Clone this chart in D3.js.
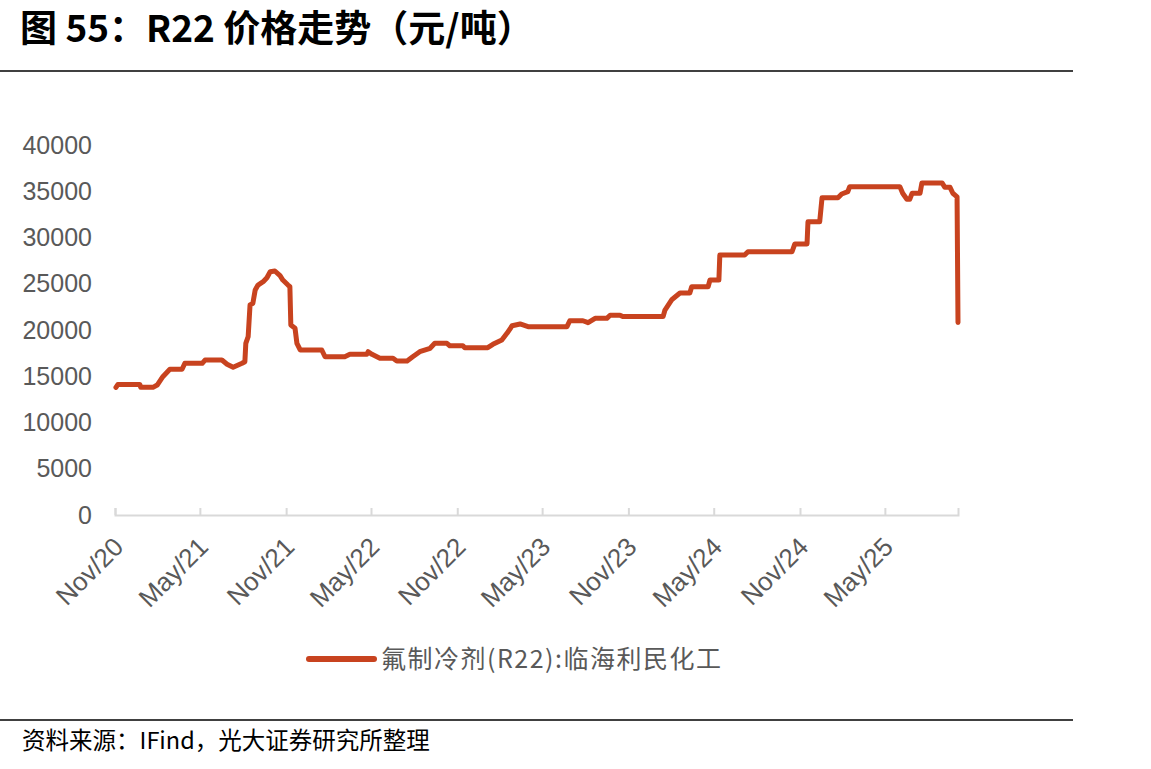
<!DOCTYPE html>
<html>
<head>
<meta charset="utf-8">
<script src="https://cdn.jsdelivr.net/npm/d3@7"></script>
<style>
  body { margin: 0; background: #fff; }
  svg { display: block; }
</style>
</head>
<body>
<script>
// R22 price, yuan/ton
var dates = [
    '2020-11-03', '2020-11-07', '2020-12-24', '2020-12-26', '2021-01-21', '2021-01-30',
    '2021-02-11', '2021-02-26', '2021-03-24', '2021-03-30', '2021-05-06', '2021-05-12',
    '2021-06-17', '2021-06-28', '2021-07-11', '2021-07-30', '2021-08-05', '2021-08-07',
    '2021-08-12', '2021-08-16', '2021-08-22', '2021-08-27', '2021-09-02', '2021-09-13',
    '2021-09-21', '2021-09-28', '2021-10-08', '2021-10-19', '2021-10-25', '2021-11-05',
    '2021-11-09', '2021-11-11', '2021-11-20', '2021-11-24', '2021-12-01', '2022-01-16',
    '2022-01-23', '2022-03-06', '2022-03-17', '2022-04-22', '2022-04-25', '2022-05-03',
    '2022-05-20', '2022-06-17', '2022-06-25', '2022-07-17', '2022-07-29', '2022-08-13',
    '2022-09-04', '2022-09-14', '2022-10-10', '2022-10-16', '2022-11-13', '2022-11-17',
    '2023-01-05', '2023-01-16', '2023-02-04', '2023-02-15', '2023-02-26', '2023-03-15',
    '2023-04-01', '2023-06-23', '2023-06-29', '2023-07-27', '2023-08-07', '2023-08-22',
    '2023-09-16', '2023-09-23', '2023-10-14', '2023-10-20', '2024-01-14', '2024-01-18',
    '2024-02-02', '2024-02-19', '2024-03-11', '2024-03-15', '2024-04-19', '2024-04-23',
    '2024-05-12', '2024-05-14', '2024-07-06', '2024-07-13', '2024-10-15', '2024-10-21',
    '2024-11-16', '2024-11-18', '2024-12-13', '2024-12-18', '2025-01-21', '2025-01-29',
    '2025-02-11', '2025-02-15', '2025-06-02', '2025-06-08', '2025-06-17', '2025-06-23',
    '2025-06-28', '2025-07-15', '2025-07-19', '2025-08-31', '2025-09-06', '2025-09-17',
    '2025-09-23', '2025-10-02', '2025-10-04'
];
var prices = [
    13800, 14100, 14100, 13800, 13800, 14050,
    14950, 15750, 15750, 16400, 16400, 16750,
    16750, 16300, 15970, 16400, 16570, 18560,
    19280, 22700, 22880, 24320, 24860, 25220,
    25650, 26300, 26380, 25870, 25400, 24860,
    24680, 20540, 20180, 18560, 17840, 17840,
    17110, 17110, 17370, 17370, 17650, 17370,
    16940, 16940, 16650, 16650, 17110, 17650,
    18020, 18560, 18560, 18300, 18300, 18090,
    18090, 18450, 18920, 19640, 20460, 20650,
    20360, 20360, 21000, 21000, 20790, 21260,
    21260, 21600, 21600, 21450, 21450, 22160,
    23300, 24000, 24000, 24680, 24680, 25400,
    25400, 28100, 28100, 28460, 28460, 29300,
    29300, 31700, 31700, 34300, 34300, 34700,
    34950, 35500, 35500, 34780, 34130, 34130,
    34780, 34780, 35900, 35900, 35420, 35420,
    34780, 34400, 20800
];
var axisStart = '2020-11-01';
var axisEnd = '2025-10-04';
var tickDates = ['2020-11-01', '2021-05-01', '2021-11-01', '2022-05-01', '2022-11-01',
    '2023-05-01', '2023-11-01', '2024-05-01', '2024-11-01', '2025-05-01'];
var yTicks = [0, 5000, 10000, 15000, 20000, 25000, 30000, 35000, 40000];

var titleText = '图 55：R22 价格走势（元/吨）';
var legendText = '氟制冷剂(R22):临海利民化工';
var sourceText = '资料来源：IFind，光大证券研究所整理';

var width = 1151;
var height = 769;
var lineColor = '#c8431f';
var textGray = '#595959';
var cjk = '"Noto Sans CJK SC", "Noto Sans", sans-serif';
var latin = '"Liberation Sans", Arial, sans-serif';

var parse = d3.timeParse('%Y-%m-%d');
var fmt = d3.timeFormat('%b/%y');

var svg = d3.select('body').append('svg')
    .attr('width', width)
    .attr('height', height);

// title and rules
svg.append('text')
    .attr('x', 20)
    .attr('y', 42)
    .attr('font-family', cjk)
    .attr('font-weight', 'bold')
    .attr('font-size', 37)
    .attr('fill', '#000')
    .text(titleText);

svg.append('line')
    .attr('x1', 0).attr('x2', 1073)
    .attr('y1', 71).attr('y2', 71)
    .attr('stroke', '#000').attr('stroke-width', 1.5);

svg.append('line')
    .attr('x1', 0).attr('x2', 1073)
    .attr('y1', 720).attr('y2', 720)
    .attr('stroke', '#000').attr('stroke-width', 1.5);

svg.append('text')
    .attr('x', 22)
    .attr('y', 749)
    .attr('font-family', cjk)
    .attr('font-size', 23.5)
    .attr('fill', '#000')
    .text(sourceText);

// scales
var x = d3.scaleTime()
    .domain([parse(axisStart), parse(axisEnd)])
    .range([115, 958]);
var y = d3.scaleLinear()
    .domain([0, 40000])
    .range([515, 145]);

// y labels, no axis line in the original
var yAxis = svg.append('g')
    .attr('transform', 'translate(92,0)')
    .call(d3.axisLeft(y).tickValues(yTicks).tickSize(0).tickPadding(0).tickFormat(d3.format('d')));
yAxis.select('.domain').remove();
yAxis.selectAll('text')
    .attr('font-family', latin)
    .attr('font-size', 25)
    .attr('fill', textGray);

// x axis with inward ticks
var xAxis = svg.append('g')
    .attr('transform', 'translate(0,515)')
    .call(d3.axisBottom(x)
        .tickValues(tickDates.map(parse))
        .tickSize(-7)
        .tickSizeOuter(-7)
        .tickFormat(fmt));
xAxis.select('.domain')
    .attr('stroke', '#d9d9d9')
    .attr('stroke-width', 2);
xAxis.selectAll('.tick line')
    .attr('stroke', '#d9d9d9')
    .attr('stroke-width', 2);
xAxis.selectAll('.tick text')
    .attr('font-family', latin)
    .attr('font-size', 26)
    .attr('fill', textGray)
    .attr('text-anchor', 'end')
    .attr('dy', '0.35em')
    .attr('transform', 'translate(3,27) rotate(-45)')
    .attr('y', 0)
    .attr('x', 0);

// the price line
var points = dates.map(function (d, i) {
    return { date: parse(d), value: prices[i] };
});
var line = d3.line()
    .x(function (d) { return x(d.date); })
    .y(function (d) { return y(d.value); });

svg.append('path')
    .datum(points)
    .attr('d', line)
    .attr('fill', 'none')
    .attr('stroke', lineColor)
    .attr('stroke-width', 5)
    .attr('stroke-linejoin', 'round')
    .attr('stroke-linecap', 'round');

// legend
svg.append('line')
    .attr('x1', 309).attr('x2', 374)
    .attr('y1', 659).attr('y2', 659)
    .attr('stroke', lineColor)
    .attr('stroke-width', 6)
    .attr('stroke-linecap', 'round');

svg.append('text')
    .attr('x', 381)
    .attr('y', 668)
    .attr('font-family', cjk)
    .attr('font-size', 25)
    .attr('letter-spacing', 1.5)
    .attr('fill', textGray)
    .text(legendText);
</script>
</body>
</html>
